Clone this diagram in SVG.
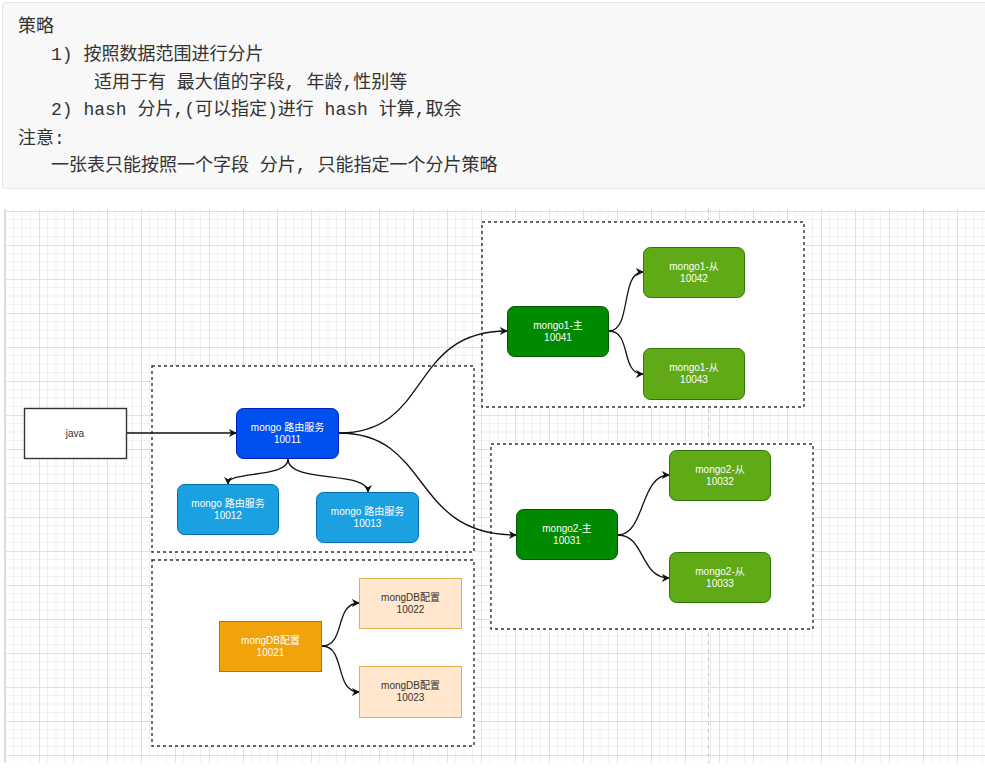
<svg xmlns="http://www.w3.org/2000/svg" width="985" height="768" viewBox="0 0 985 768">
<style>
.note{font-family:"Liberation Mono","Noto Sans CJK SC",monospace;font-size:18px;fill:#333}
.lbl{font-family:"Liberation Sans","Noto Sans CJK SC",sans-serif;font-size:10px;text-anchor:middle}
.w{fill:#ffffff}
.d{fill:#333333}
.cont{fill:#ffffff;stroke:#333;stroke-width:1.4;stroke-dasharray:3 3}
.edge{fill:none;stroke:#111;stroke-width:1.3;marker-end:url(#arr)}
</style>
<defs>
<pattern id="grid" patternUnits="userSpaceOnUse" x="5" y="211" width="34" height="34">
<path d="M8.5,0V34M17,0V34M25.5,0V34M0,8.5H34M0,17H34M0,25.5H34" stroke="#f1f1f1" stroke-width="1" fill="none"/>
<path d="M0.5,0V34M0,0.5H34" stroke="#e0e0e0" stroke-width="1" fill="none"/>
</pattern>
<marker id="arr" viewBox="0 0 10 10" refX="9" refY="5" markerWidth="8" markerHeight="8" markerUnits="userSpaceOnUse" orient="auto">
<path d="M0,0 L10,5 L0,10 L3,5 Z" fill="#111"/>
</marker>
</defs>
<rect width="985" height="768" fill="#ffffff"/>
<g id="notes">
<rect x="2.5" y="2.5" width="990" height="186" rx="3" fill="#f8f8f8" stroke="#e6e6e6"/>
<text class="note" x="18" y="32">策略</text>
<text class="note" x="51" y="60" xml:space="preserve">1) 按照数据范围进行分片</text>
<text class="note" x="94" y="88" xml:space="preserve">适用于有 最大值的字段, 年龄,性别等</text>
<text class="note" x="51" y="115" xml:space="preserve">2) hash 分片,(可以指定)进行 hash 计算,取余</text>
<text class="note" x="18" y="144">注意:</text>
<text class="note" x="51" y="171" xml:space="preserve">一张表只能按照一个字段 分片, 只能指定一个分片策略</text>
</g>
<g id="canvas">
<rect x="6" y="209" width="979" height="554" fill="url(#grid)"/>
<line x1="5" y1="209" x2="5" y2="763" stroke="#dcdcdc" stroke-width="2"/>
<line x1="708.5" y1="209" x2="708.5" y2="763" stroke="#c8c8c8" stroke-width="1" stroke-dasharray="4 4"/>
</g>
<g id="containers">
<rect class="cont" x="152" y="366" width="322" height="186"/>
<rect class="cont" x="152" y="560" width="322" height="186"/>
<rect class="cont" x="482" y="222" width="322" height="185"/>
<rect class="cont" x="491" y="444" width="322" height="185"/>
</g>
<g id="connectors">
<path class="edge" d="M127,433 L236,433"/>
<path class="edge" d="M288,459 C288,479 228,470 228,484"/>
<path class="edge" d="M288,459 C288,484 368,470 368,492"/>
<path class="edge" d="M339,433 C432,433 408,331 507,331"/>
<path class="edge" d="M339,433 C432,433 410,535 516,535"/>
<path class="edge" d="M322,646 C346,646 334,603 359,603"/>
<path class="edge" d="M322,646 C346,646 334,692 359,692"/>
<path class="edge" d="M609,331 C632,331 620,272 643,272"/>
<path class="edge" d="M609,331 C632,331 620,374 643,374"/>
<path class="edge" d="M618,535 C645,535 640,475 669,475"/>
<path class="edge" d="M618,535 C645,535 640,578 669,578"/>
</g>
<g id="java">
<rect x="24.5" y="408.5" width="102" height="50" fill="#ffffff" stroke="#333" stroke-width="1.4"/>
<text class="lbl d" x="75" y="437">java</text>
</g>
<g id="router10011">
<rect x="236.5" y="408.5" width="102" height="50" rx="7" fill="#0050ef" stroke="#001dbc"/>
<text class="lbl w" x="287.5" y="431">mongo 路由服务</text>
<text class="lbl w" x="287.5" y="443">10011</text>
</g>
<g id="router10012">
<rect x="177.5" y="484.5" width="101" height="50" rx="7" fill="#1ba1e2" stroke="#006eaf"/>
<text class="lbl w" x="228" y="507">mongo 路由服务</text>
<text class="lbl w" x="228" y="519">10012</text>
</g>
<g id="router10013">
<rect x="316.5" y="492.5" width="102" height="50" rx="7" fill="#1ba1e2" stroke="#006eaf"/>
<text class="lbl w" x="367.5" y="515">mongo 路由服务</text>
<text class="lbl w" x="367.5" y="527">10013</text>
</g>
<g id="config10021">
<rect x="219.5" y="621.5" width="102" height="50" fill="#f0a30a" stroke="#bd7000"/>
<text class="lbl w" x="270.5" y="644">mongDB配置</text>
<text class="lbl w" x="270.5" y="656">10021</text>
</g>
<g id="config10022">
<rect x="359.5" y="578.5" width="102" height="50" fill="#ffe6cc" stroke="#e0b050"/>
<text class="lbl d" x="410.5" y="601">mongDB配置</text>
<text class="lbl d" x="410.5" y="613">10022</text>
</g>
<g id="config10023">
<rect x="359.5" y="666.5" width="102" height="51" fill="#ffe6cc" stroke="#e0b050"/>
<text class="lbl d" x="410.5" y="689">mongDB配置</text>
<text class="lbl d" x="410.5" y="701">10023</text>
</g>
<g id="mongo1master">
<rect x="507.5" y="306.5" width="101" height="50" rx="7" fill="#008a00" stroke="#005700"/>
<text class="lbl w" x="558" y="329">mongo1-主</text>
<text class="lbl w" x="558" y="341">10041</text>
</g>
<g id="mongo1slave10042">
<rect x="643.5" y="247.5" width="101" height="50" rx="7" fill="#60a917" stroke="#2d7600"/>
<text class="lbl w" x="694" y="270">mongo1-从</text>
<text class="lbl w" x="694" y="282">10042</text>
</g>
<g id="mongo1slave10043">
<rect x="643.5" y="348.5" width="101" height="51" rx="7" fill="#60a917" stroke="#2d7600"/>
<text class="lbl w" x="694" y="371">mongo1-从</text>
<text class="lbl w" x="694" y="383">10043</text>
</g>
<g id="mongo2master">
<rect x="516.5" y="509.5" width="101" height="50" rx="7" fill="#008a00" stroke="#005700"/>
<text class="lbl w" x="567" y="532">mongo2-主</text>
<text class="lbl w" x="567" y="544">10031</text>
</g>
<g id="mongo2slave10032">
<rect x="669.5" y="450.5" width="101" height="50" rx="7" fill="#60a917" stroke="#2d7600"/>
<text class="lbl w" x="720" y="473">mongo2-从</text>
<text class="lbl w" x="720" y="485">10032</text>
</g>
<g id="mongo2slave10033">
<rect x="669.5" y="552.5" width="101" height="50" rx="7" fill="#60a917" stroke="#2d7600"/>
<text class="lbl w" x="720" y="575">mongo2-从</text>
<text class="lbl w" x="720" y="587">10033</text>
</g>
</svg>
